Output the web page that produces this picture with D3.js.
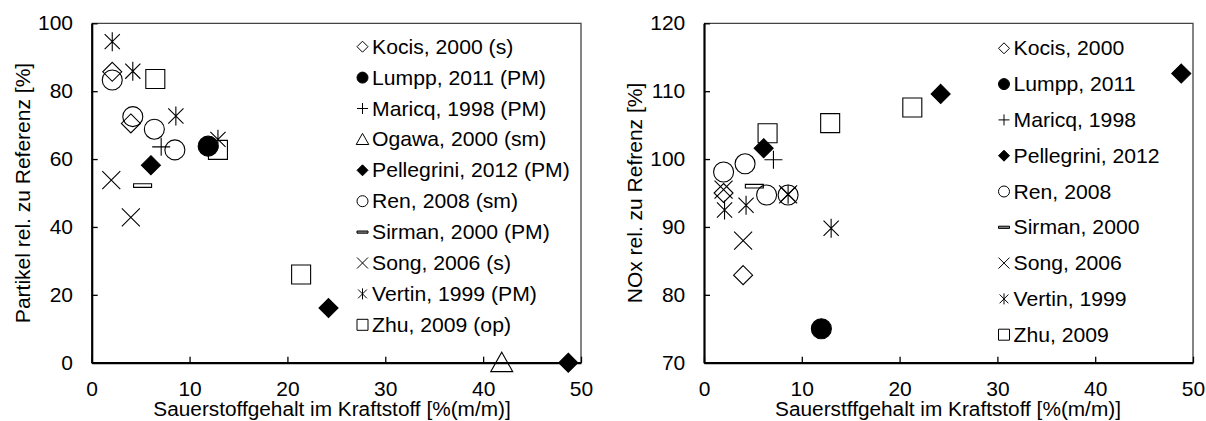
<!DOCTYPE html>
<html>
<head>
<meta charset="utf-8">
<script src="https://cdn.jsdelivr.net/npm/d3@7"></script>
<style>
  body { margin: 0; background: #fff; }
  svg { display: block; font-family: "Liberation Sans", Arial, sans-serif; }
</style>
</head>
<body>
<svg id="svg" width="1206" height="421"></svg>
<script>
// series names (left: particles, right: NOx)
var namesPM = ['Kocis, 2000 (s)', 'Lumpp, 2011 (PM)', 'Maricq, 1998 (PM)', 'Ogawa, 2000 (sm)',
  'Pellegrini, 2012 (PM)', 'Ren, 2008 (sm)', 'Sirman, 2000 (PM)', 'Song, 2006 (s)',
  'Vertin, 1999 (PM)', 'Zhu, 2009 (op)'];
var namesNOx = ['Kocis, 2000', 'Lumpp, 2011', 'Maricq, 1998', 'Pellegrini, 2012', 'Ren, 2008',
  'Sirman, 2000', 'Song, 2006', 'Vertin, 1999', 'Zhu, 2009'];

// particle data [oxygen %, rel. %]
var kocisPM = [[2.1, 85.7], [4.0, 70.5]];
var lumppPM = [[11.9, 63.8]];
var maricqPM = [[7.1, 63.6]];
var ogawaPM = [[41.9, 0]];
var pellegriniPM = [[6.05, 58.2], [24.2, 16.1], [48.7, 0]];
var renPM = [[2.1, 83.3], [4.2, 72.5], [6.4, 68.8], [8.5, 62.7]];
var sirmanPM = [[5.2, 52.2]];
var songPM = [[2.0, 53.8], [4.0, 42.8]];
var vertinPM = [[2.1, 94.6], [4.2, 85.9], [8.6, 72.7], [12.9, 65.8]];
var zhuPM = [[6.5, 83.6], [12.9, 62.7], [21.4, 26.0]];

// NOx data
var kocisNOx = [[2.0, 95.0], [4.0, 82.9]];
var lumppNOx = [[12.0, 75.0]];
var maricqNOx = [[7.1, 99.9]];
var pellegriniNOx = [[6.1, 101.6], [24.2, 109.6], [48.8, 112.6]];
var renNOx = [[2.0, 98.1], [4.2, 99.3], [6.4, 94.7], [8.6, 94.7]];
var sirmanNOx = [[5.15, 96.0]];
var songNOx = [[2.0, 95.5], [4.0, 88.0], [8.6, 94.8]];
var vertinNOx = [[2.1, 92.5], [4.3, 93.2], [8.6, 94.8], [13.0, 89.8]];
var zhuNOx = [[6.5, 103.8], [12.9, 105.3], [21.3, 107.6]];

var xTicks = [0, 10, 20, 30, 40, 50];
var yTicksPM = [0, 20, 40, 60, 80, 100];
var yTicksNOx = [70, 80, 90, 100, 110, 120];

var svg = d3.select('svg');

// marker shape path, s = half size
function markerPath(type, s) {
  var p = d3.path();
  if (type === 'diamond') {
    p.moveTo(0, -s); p.lineTo(s, 0); p.lineTo(0, s); p.lineTo(-s, 0); p.closePath();
  } else if (type === 'circle') {
    p.moveTo(s, 0); p.arc(0, 0, s, 0, 2 * Math.PI);
  } else if (type === 'plus') {
    p.moveTo(-s, 0); p.lineTo(s, 0); p.moveTo(0, -s); p.lineTo(0, s);
  } else if (type === 'triangle') {
    p.moveTo(0, -s); p.lineTo(s * 1.05, s * 0.85); p.lineTo(-s * 1.05, s * 0.85); p.closePath();
  } else if (type === 'dash') {
    p.rect(-s, -s * 0.2, 2 * s, s * 0.4);
  } else if (type === 'x') {
    p.moveTo(-s, -s); p.lineTo(s, s); p.moveTo(s, -s); p.lineTo(-s, s);
  } else if (type === 'star') {
    var k = s * 0.8;
    p.moveTo(-k, -k); p.lineTo(k, k); p.moveTo(k, -k); p.lineTo(-k, k);
    p.moveTo(0, -s); p.lineTo(0, s);
  } else if (type === 'square') {
    p.rect(-s, -s, 2 * s, 2 * s);
  }
  return p.toString();
}

function drawChart(cfg) {
  var x = d3.scaleLinear().domain([0, 50]).range([cfg.left, cfg.right]);
  var y = d3.scaleLinear().domain(cfg.yDomain).range([362.7, 23.3]);
  var g = svg.append('g');

  // frame top / right
  g.append('path')
    .attr('d', 'M' + x(0) + ',' + y(cfg.yDomain[1]) + 'H' + x(50) + 'V' + y(cfg.yDomain[0]))
    .attr('fill', 'none').attr('stroke', '#444').attr('stroke-width', 1.3);

  var xAxis = g.append('g')
    .attr('transform', 'translate(0,' + y(cfg.yDomain[0]) + ')')
    .call(d3.axisBottom(x).tickValues(xTicks).tickSizeInner(-6).tickSizeOuter(0).tickPadding(19));
  var yAxis = g.append('g')
    .attr('transform', 'translate(' + x(0) + ',0)')
    .call(d3.axisLeft(y).tickValues(cfg.yTicks).tickSizeInner(-6).tickSizeOuter(0));

  [xAxis, yAxis].forEach(function (a) {
    a.select('.domain').attr('stroke', '#000').attr('stroke-width', 2.2);
    a.selectAll('.tick line').attr('stroke', '#000').attr('stroke-width', 1.3);
    a.selectAll('.tick text').attr('font-size', 20).attr('fill', '#000')
      .attr('font-family', '"Liberation Sans", Arial, sans-serif');
  });
  xAxis.selectAll('.tick text').attr('transform', 'scale(1.05,1)');
  yAxis.selectAll('.tick text').attr('x', 0).attr('transform', 'translate(-18.7,0) scale(1.05,1)');

  // axis titles
  g.append('text')
    .attr('transform', 'translate(' + cfg.xTitleX + ',416) scale(1.04,1)')
    .attr('text-anchor', 'middle').attr('font-size', 20)
    .text(cfg.xTitle);
  g.append('text')
    .attr('transform', 'translate(' + cfg.yTitleX + ',193) rotate(-90)')
    .attr('text-anchor', 'middle').attr('font-size', 21)
    .text(cfg.yTitle);

  // points
  cfg.series.forEach(function (s) {
    var filled = s.type === 'diamondF' || s.type === 'circleF';
    var shape = s.type.replace('F', '');
    var big = {diamond: 9.5, circle: 10, plus: 9, triangle: 10.5, dash: 9, x: 9, star: 9.5, square: 9.5}[shape];
    g.append('g').selectAll('path')
      .data(s.data)
      .enter()
      .append('path')
      .attr('transform', function (d) { return 'translate(' + x(d[0]) + ',' + y(d[1]) + ')'; })
      .attr('d', markerPath(shape, big))
      .attr('fill', filled ? '#000' : 'none')
      .attr('stroke', '#000')
      .attr('stroke-width', 1.1);
  });

  // legend
  var leg = g.append('g');
  cfg.series.forEach(function (s, i) {
    var filled = s.type === 'diamondF' || s.type === 'circleF';
    var shape = s.type.replace('F', '');
    var ly = cfg.legY + i * cfg.legStep;
    var small = {diamond: 5.5, circle: 5.5, plus: 5.5, triangle: 6, dash: 5.5, x: 5.5, star: 5.5, square: 5.5}[shape];
    leg.append('path')
      .attr('transform', 'translate(' + cfg.legX + ',' + ly + ')')
      .attr('d', markerPath(shape, small))
      .attr('fill', filled ? '#000' : (shape === 'dash' ? '#888' : 'none'))
      .attr('stroke', '#000')
      .attr('stroke-width', 1);
    leg.append('text')
      .attr('transform', 'translate(' + (cfg.legX + 9.5) + ',' + ly + ') scale(1.06,1)')
      .attr('dy', '0.35em')
      .attr('font-size', 20)
      .text(s.name);
  });
}

drawChart({
  left: 91.7, right: 581, yDomain: [0, 100], yTicks: yTicksPM,
  xTitle: 'Sauerstoffgehalt im Kraftstoff [%(m/m)]', xTitleX: 332,
  yTitle: 'Partikel rel. zu Referenz [%]', yTitleX: 29.5,
  legX: 362.5, legY: 46.7, legStep: 30.9,
  series: [
    {name: namesPM[0], type: 'diamond', data: kocisPM},
    {name: namesPM[1], type: 'circleF', data: lumppPM},
    {name: namesPM[2], type: 'plus', data: maricqPM},
    {name: namesPM[3], type: 'triangle', data: ogawaPM},
    {name: namesPM[4], type: 'diamondF', data: pellegriniPM},
    {name: namesPM[5], type: 'circle', data: renPM},
    {name: namesPM[6], type: 'dash', data: sirmanPM},
    {name: namesPM[7], type: 'x', data: songPM},
    {name: namesPM[8], type: 'star', data: vertinPM},
    {name: namesPM[9], type: 'square', data: zhuPM}
  ]
});

drawChart({
  left: 704, right: 1193, yDomain: [70, 120], yTicks: yTicksNOx,
  xTitle: 'Sauerstffgehalt im Kraftstoff [%(m/m)]', xTitleX: 948,
  yTitle: 'NOx rel. zu Refrenz [%]', yTitleX: 641.5,
  legX: 1004, legY: 48.3, legStep: 35.8,
  series: [
    {name: namesNOx[0], type: 'diamond', data: kocisNOx},
    {name: namesNOx[1], type: 'circleF', data: lumppNOx},
    {name: namesNOx[2], type: 'plus', data: maricqNOx},
    {name: namesNOx[3], type: 'diamondF', data: pellegriniNOx},
    {name: namesNOx[4], type: 'circle', data: renNOx},
    {name: namesNOx[5], type: 'dash', data: sirmanNOx},
    {name: namesNOx[6], type: 'x', data: songNOx},
    {name: namesNOx[7], type: 'star', data: vertinNOx},
    {name: namesNOx[8], type: 'square', data: zhuNOx}
  ]
});
</script>
</body>
</html>
